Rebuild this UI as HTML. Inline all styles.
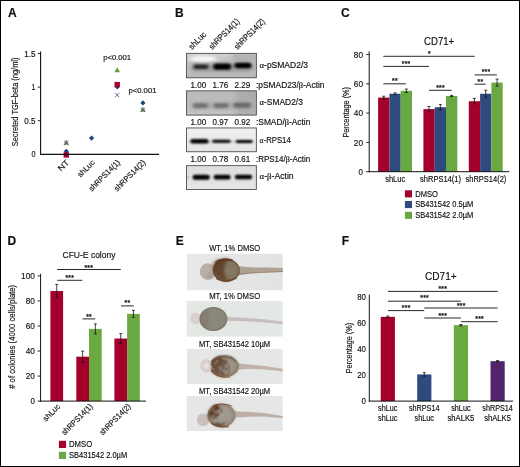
<!DOCTYPE html>
<html lang="en"><head><meta charset="utf-8"><title>Figure</title>
<style>
html,body{margin:0;padding:0;background:#fff;}
body{width:520px;height:467px;overflow:hidden;}
svg{display:block;}
text{font-family:"Liberation Sans",Arial,sans-serif;fill:#111;stroke:#111;stroke-width:0.16px;}
.sf{font-family:"Liberation Serif","DejaVu Serif",serif;}
</style></head><body>
<svg width="520" height="467" viewBox="0 0 520 467">
<defs>
<filter id="b1" x="-30%" y="-80%" width="160%" height="260%"><feGaussianBlur stdDeviation="1.7 1.2"/></filter>
<filter id="b2" x="-30%" y="-80%" width="160%" height="260%"><feGaussianBlur stdDeviation="2.2 1.6"/></filter>
<filter id="b3" x="-30%" y="-80%" width="160%" height="260%"><feGaussianBlur stdDeviation="1.1 0.8"/></filter>
<filter id="s1" x="-30%" y="-30%" width="160%" height="160%"><feGaussianBlur stdDeviation="0.7"/></filter>
<filter id="s2" x="-30%" y="-30%" width="160%" height="160%"><feGaussianBlur stdDeviation="1.4"/></filter>
<filter id="s4" x="-40%" y="-40%" width="180%" height="180%"><feGaussianBlur stdDeviation="1.1"/></filter>
<filter id="s5" x="-20%" y="-40%" width="140%" height="180%"><feGaussianBlur stdDeviation="0.6"/></filter>
<filter id="mot" x="-30%" y="-30%" width="160%" height="160%"><feTurbulence type="fractalNoise" baseFrequency="0.22" numOctaves="2" seed="7" result="n"/><feColorMatrix in="n" type="matrix" values="0 0 0 0 0  0 0 0 0 0  0 0 0 0 0  3.0 0 0 0 -1.0" result="a0"/><feGaussianBlur in="a0" stdDeviation="0.5" result="a"/><feGaussianBlur in="SourceGraphic" stdDeviation="1.2" result="sg"/><feComposite in="sg" in2="a" operator="in"/></filter>
<filter id="s3" x="-30%" y="-30%" width="160%" height="160%"><feGaussianBlur stdDeviation="0.45"/></filter>
</defs>
<rect x="0" y="0" width="520" height="467" fill="#fff"/>
<text x="8.00" y="17.00" font-size="12" font-weight="bold" fill="#000">A</text>
<text x="175.10" y="16.90" font-size="12" font-weight="bold" fill="#000">B</text>
<text x="341.00" y="17.00" font-size="12" font-weight="bold" fill="#000">C</text>
<text x="7.40" y="244.90" font-size="12" font-weight="bold" fill="#000">D</text>
<text x="175.70" y="244.90" font-size="12" font-weight="bold" fill="#000">E</text>
<text x="341.80" y="244.90" font-size="12" font-weight="bold" fill="#000">F</text>
<g id="panelA">
<line x1="37.80" y1="53.50" x2="40.60" y2="53.50" stroke="#111" stroke-width="0.9" stroke-linecap="butt"/>
<text x="35.40" y="56.60" font-size="8.7" text-anchor="end" textLength="11.20" lengthAdjust="spacingAndGlyphs">1.5</text>
<line x1="37.80" y1="87.10" x2="40.60" y2="87.10" stroke="#111" stroke-width="0.9" stroke-linecap="butt"/>
<text x="35.40" y="90.20" font-size="8.7" text-anchor="end" textLength="3.90" lengthAdjust="spacingAndGlyphs">1</text>
<line x1="37.80" y1="120.70" x2="40.60" y2="120.70" stroke="#111" stroke-width="0.9" stroke-linecap="butt"/>
<text x="35.40" y="123.80" font-size="8.7" text-anchor="end" textLength="11.20" lengthAdjust="spacingAndGlyphs">0.5</text>
<text x="35.40" y="157.40" font-size="8.7" text-anchor="end" textLength="4.00" lengthAdjust="spacingAndGlyphs">0</text>
<text x="18.00" y="146.30" font-size="8.6" textLength="88.80" lengthAdjust="spacingAndGlyphs" transform="rotate(-90 18.00 146.30)">Secreted TGF-beta (ng/ml)</text>
<path d="M66.30 139.60 L69.10 144.64 L63.50 144.64Z" fill="#5FA33A"/>
<path d="M64.10 140.80 L68.50 145.20 M64.10 145.20 L68.50 140.80" stroke="#6B3FA0" stroke-width="0.85" fill="none"/>
<path d="M66.30 148.70 L68.90 151.30 L66.30 153.90 L63.70 151.30Z" fill="#1F3F7F"/>
<rect x="63.60" y="152.20" width="5.40" height="5.40" fill="#A4002C"/>
<path d="M91.60 135.50 L94.20 138.10 L91.60 140.70 L89.00 138.10Z" fill="#1F3F7F"/>
<path d="M117.20 67.30 L120.00 72.34 L114.40 72.34Z" fill="#5FA33A"/>
<path d="M117.20 84.20 L119.80 86.80 L117.20 89.40 L114.60 86.80Z" fill="#1F3F7F"/>
<rect x="114.50" y="81.90" width="5.40" height="5.40" fill="#A4002C"/>
<path d="M115.00 92.90 L119.40 97.30 M115.00 97.30 L119.40 92.90" stroke="#6B3FA0" stroke-width="0.85" fill="none"/>
<path d="M142.90 100.30 L145.50 102.90 L142.90 105.50 L140.30 102.90Z" fill="#1F3F7F"/>
<path d="M142.90 106.60 L145.70 111.64 L140.10 111.64Z" fill="#5FA33A"/>
<path d="M140.70 107.70 L145.10 112.10 M140.70 112.10 L145.10 107.70" stroke="#6B3FA0" stroke-width="0.85" fill="none"/>
<line x1="40.60" y1="51.40" x2="40.60" y2="154.85" stroke="#111" stroke-width="1.1" stroke-linecap="butt"/>
<line x1="40.05" y1="154.30" x2="159.00" y2="154.30" stroke="#111" stroke-width="1.15" stroke-linecap="butt"/>
<text x="103.20" y="60.20" font-size="7.8" textLength="27.90" lengthAdjust="spacingAndGlyphs">p&lt;0.001</text>
<text x="128.50" y="93.40" font-size="7.8" textLength="27.90" lengthAdjust="spacingAndGlyphs">p&lt;0.001</text>
<text x="69.80" y="163.00" font-size="8" text-anchor="end" textLength="12.40" lengthAdjust="spacingAndGlyphs" transform="rotate(-45 69.80 163.00)">NT</text>
<text x="95.40" y="163.00" font-size="8" text-anchor="end" textLength="21.00" lengthAdjust="spacingAndGlyphs" transform="rotate(-45 95.40 163.00)">shLuc</text>
<text x="120.60" y="163.00" font-size="8" text-anchor="end" textLength="40.60" lengthAdjust="spacingAndGlyphs" transform="rotate(-45 120.60 163.00)">shRPS14(1)</text>
<text x="146.00" y="163.00" font-size="8" text-anchor="end" textLength="40.60" lengthAdjust="spacingAndGlyphs" transform="rotate(-45 146.00 163.00)">shRPS14(2)</text>
</g>
<g id="panelB">
<linearGradient id="g1" x1="0" y1="0" x2="0" y2="1"><stop offset="0" stop-color="#d2d2d2"/><stop offset="0.35" stop-color="#c0c0c0"/><stop offset="1" stop-color="#bababa"/></linearGradient>
<linearGradient id="g2" x1="0" y1="0" x2="0" y2="1"><stop offset="0" stop-color="#b8b8b8"/><stop offset="1" stop-color="#c4c4c4"/></linearGradient>
<linearGradient id="g3" x1="0" y1="0" x2="0" y2="1"><stop offset="0" stop-color="#f1f1f1"/><stop offset="1" stop-color="#e4e4e4"/></linearGradient>
<linearGradient id="g4" x1="0" y1="0" x2="0" y2="1"><stop offset="0" stop-color="#dedede"/><stop offset="1" stop-color="#e6e6e6"/></linearGradient>
<clipPath id="c1"><rect x="186" y="52.9" width="70.8" height="25.3"/></clipPath>
<clipPath id="c2"><rect x="186" y="90.4" width="70.8" height="25.1"/></clipPath>
<clipPath id="c3"><rect x="186" y="127.5" width="70.8" height="24.7"/></clipPath>
<clipPath id="c4"><rect x="186" y="165.2" width="70.8" height="24.8"/></clipPath>
<g clip-path="url(#c1)">
<rect x="186.00" y="52.90" width="70.80" height="25.30" fill="url(#g1)"/>
<ellipse cx="203" cy="59.0" rx="14" ry="3.2" fill="#fafafa" opacity="0.95" filter="url(#b2)"/><rect x="232" y="52" width="26" height="9" fill="#999" opacity="0.45" filter="url(#b2)"/>
<rect x="191" y="63.10" width="62.00" height="9.0" rx="4.50" fill="#5a5a5a" opacity="0.3" filter="url(#b2)"/>
<rect x="193.4" y="64.60" width="15.20" height="4.4" rx="2.20" fill="#1e1e1e" opacity="0.95" filter="url(#b1)"/>
<rect x="213.2" y="63.60" width="18.00" height="6.2" rx="3.10" fill="#050505" opacity="1" filter="url(#b1)"/>
<rect x="234.4" y="62.80" width="17.20" height="5.4" rx="2.70" fill="#050505" opacity="1" filter="url(#b1)"/>
</g>
<rect x="186.45" y="53.35" width="69.90" height="24.40" fill="none" stroke="#505050" stroke-width="0.9"/>
<g clip-path="url(#c2)">
<rect x="186.00" y="90.40" width="70.80" height="25.10" fill="url(#g2)"/>
<rect x="236" y="89" width="22" height="28" fill="#999" opacity="0.4" filter="url(#b2)"/>
<rect x="190" y="101.80" width="64.00" height="8.0" rx="4.00" fill="#8a8a8a" opacity="0.3" filter="url(#b2)"/>
<rect x="193.0" y="103.20" width="15.20" height="4.8" rx="2.40" fill="#585858" opacity="0.72" filter="url(#b1)"/>
<rect x="213.4" y="103.20" width="15.40" height="4.8" rx="2.40" fill="#585858" opacity="0.72" filter="url(#b1)"/>
<rect x="233.2" y="102.80" width="17.60" height="5.0" rx="2.50" fill="#545454" opacity="0.72" filter="url(#b1)"/>
</g>
<rect x="186.45" y="90.85" width="69.90" height="24.20" fill="none" stroke="#505050" stroke-width="0.9"/>
<g clip-path="url(#c3)">
<rect x="186.00" y="127.50" width="70.80" height="24.70" fill="url(#g3)"/>

<rect x="188" y="141.00" width="66.00" height="1.2" rx="0.60" fill="#555" opacity="0.35" filter="url(#b3)"/>
<rect x="190.4" y="139.10" width="18.20" height="4.4" rx="2.20" fill="#000" opacity="1" filter="url(#b3)"/>
<rect x="212.2" y="139.85" width="18.40" height="2.9" rx="1.45" fill="#050505" opacity="1" filter="url(#b3)"/>
<rect x="235.8" y="140.05" width="16.80" height="2.9" rx="1.45" fill="#050505" opacity="1" filter="url(#b3)"/>
</g>
<rect x="186.45" y="127.95" width="69.90" height="23.80" fill="none" stroke="#505050" stroke-width="0.9"/>
<g clip-path="url(#c4)">
<rect x="186.00" y="165.20" width="70.80" height="24.80" fill="url(#g4)"/>

<rect x="187.4" y="176.50" width="1.80" height="1.4" rx="0.70" fill="#444" opacity="0.7" filter="url(#b3)"/>
<rect x="192.6" y="174.80" width="17.20" height="5.0" rx="2.50" fill="#000" opacity="1" filter="url(#b3)"/>
<rect x="213.6" y="174.80" width="17.00" height="4.8" rx="2.40" fill="#000" opacity="1" filter="url(#b3)"/>
<rect x="234.8" y="174.80" width="17.40" height="4.4" rx="2.20" fill="#000" opacity="1" filter="url(#b3)"/>
</g>
<rect x="186.45" y="165.65" width="69.90" height="23.90" fill="none" stroke="#505050" stroke-width="0.9"/>
<text x="191.90" y="50.00" font-size="8.6" textLength="21.00" lengthAdjust="spacingAndGlyphs" transform="rotate(-45 191.90 50.00)">shLuc</text>
<text x="212.20" y="50.00" font-size="8.6" textLength="39.60" lengthAdjust="spacingAndGlyphs" transform="rotate(-45 212.20 50.00)">shRPS14(1)</text>
<text x="237.40" y="50.00" font-size="8.6" textLength="39.60" lengthAdjust="spacingAndGlyphs" transform="rotate(-45 237.40 50.00)">shRPS14(2)</text>
<text x="190.60" y="87.70" font-size="8.6" textLength="15.60" lengthAdjust="spacingAndGlyphs">1.00</text>
<text x="212.60" y="87.70" font-size="8.6" textLength="15.60" lengthAdjust="spacingAndGlyphs">1.76</text>
<text x="234.60" y="87.70" font-size="8.6" textLength="15.60" lengthAdjust="spacingAndGlyphs">2.29</text>
<text x="190.60" y="124.60" font-size="8.6" textLength="15.60" lengthAdjust="spacingAndGlyphs">1.00</text>
<text x="212.60" y="124.60" font-size="8.6" textLength="15.60" lengthAdjust="spacingAndGlyphs">0.97</text>
<text x="234.60" y="124.60" font-size="8.6" textLength="15.60" lengthAdjust="spacingAndGlyphs">0.92</text>
<text x="190.60" y="162.30" font-size="8.6" textLength="15.60" lengthAdjust="spacingAndGlyphs">1.00</text>
<text x="212.60" y="162.30" font-size="8.6" textLength="15.60" lengthAdjust="spacingAndGlyphs">0.78</text>
<text x="234.60" y="162.30" font-size="8.6" textLength="15.60" lengthAdjust="spacingAndGlyphs">0.61</text>
<text x="259.60" y="67.70" font-size="8.6" textLength="48.40" lengthAdjust="spacingAndGlyphs"><tspan class="sf">α</tspan>-pSMAD2/3</text>
<text x="256.00" y="87.70" font-size="8.6" textLength="68.50" lengthAdjust="spacingAndGlyphs">:pSMAD23/<tspan class="sf">β</tspan>-Actin</text>
<text x="259.60" y="105.00" font-size="8.6" textLength="43.30" lengthAdjust="spacingAndGlyphs"><tspan class="sf">α</tspan>-SMAD2/3</text>
<text x="256.00" y="124.60" font-size="8.6" textLength="54.30" lengthAdjust="spacingAndGlyphs">:SMAD/<tspan class="sf">β</tspan>-Actin</text>
<text x="259.60" y="143.00" font-size="8.6" textLength="31.10" lengthAdjust="spacingAndGlyphs"><tspan class="sf">α</tspan>-RPS14</text>
<text x="256.00" y="162.30" font-size="8.6" textLength="54.10" lengthAdjust="spacingAndGlyphs">:RPS14/<tspan class="sf">β</tspan>-Actin</text>
<text x="259.60" y="179.30" font-size="8.6" textLength="34.10" lengthAdjust="spacingAndGlyphs"><tspan class="sf">α</tspan>-<tspan class="sf">β</tspan>-Actin</text>
</g>
<g id="panelC">
<text x="439.10" y="44.80" font-size="10.4" text-anchor="middle" textLength="30.20" lengthAdjust="spacingAndGlyphs">CD71+</text>
<rect x="378.10" y="97.55" width="11.30" height="74.15" fill="#A4002C"/>
<line x1="383.75" y1="96.23" x2="383.75" y2="98.86" stroke="#111" stroke-width="0.8" stroke-linecap="butt"/>
<line x1="382.25" y1="96.23" x2="385.25" y2="96.23" stroke="#111" stroke-width="0.8" stroke-linecap="butt"/>
<line x1="382.25" y1="98.86" x2="385.25" y2="98.86" stroke="#111" stroke-width="0.8" stroke-linecap="butt"/>
<rect x="389.40" y="93.74" width="11.30" height="77.96" fill="#2E4A7E"/>
<line x1="395.05" y1="92.86" x2="395.05" y2="94.61" stroke="#111" stroke-width="0.8" stroke-linecap="butt"/>
<line x1="393.55" y1="92.86" x2="396.55" y2="92.86" stroke="#111" stroke-width="0.8" stroke-linecap="butt"/>
<line x1="393.55" y1="94.61" x2="396.55" y2="94.61" stroke="#111" stroke-width="0.8" stroke-linecap="butt"/>
<rect x="400.70" y="90.80" width="11.30" height="80.90" fill="#6AA842"/>
<line x1="406.35" y1="89.05" x2="406.35" y2="92.56" stroke="#111" stroke-width="0.8" stroke-linecap="butt"/>
<line x1="404.85" y1="89.05" x2="407.85" y2="89.05" stroke="#111" stroke-width="0.8" stroke-linecap="butt"/>
<line x1="404.85" y1="92.56" x2="407.85" y2="92.56" stroke="#111" stroke-width="0.8" stroke-linecap="butt"/>
<rect x="423.40" y="109.12" width="11.30" height="62.58" fill="#A4002C"/>
<line x1="429.05" y1="106.49" x2="429.05" y2="111.76" stroke="#111" stroke-width="0.8" stroke-linecap="butt"/>
<line x1="427.55" y1="106.49" x2="430.55" y2="106.49" stroke="#111" stroke-width="0.8" stroke-linecap="butt"/>
<line x1="427.55" y1="111.76" x2="430.55" y2="111.76" stroke="#111" stroke-width="0.8" stroke-linecap="butt"/>
<rect x="434.70" y="107.22" width="11.30" height="64.48" fill="#2E4A7E"/>
<line x1="440.35" y1="104.43" x2="440.35" y2="110.00" stroke="#111" stroke-width="0.8" stroke-linecap="butt"/>
<line x1="438.85" y1="104.43" x2="441.85" y2="104.43" stroke="#111" stroke-width="0.8" stroke-linecap="butt"/>
<line x1="438.85" y1="110.00" x2="441.85" y2="110.00" stroke="#111" stroke-width="0.8" stroke-linecap="butt"/>
<rect x="446.00" y="95.93" width="11.30" height="75.77" fill="#6AA842"/>
<line x1="451.65" y1="95.35" x2="451.65" y2="96.52" stroke="#111" stroke-width="0.8" stroke-linecap="butt"/>
<line x1="450.15" y1="95.35" x2="453.15" y2="95.35" stroke="#111" stroke-width="0.8" stroke-linecap="butt"/>
<line x1="450.15" y1="96.52" x2="453.15" y2="96.52" stroke="#111" stroke-width="0.8" stroke-linecap="butt"/>
<rect x="468.80" y="101.21" width="11.30" height="70.49" fill="#A4002C"/>
<line x1="474.45" y1="98.42" x2="474.45" y2="103.99" stroke="#111" stroke-width="0.8" stroke-linecap="butt"/>
<line x1="472.95" y1="98.42" x2="475.95" y2="98.42" stroke="#111" stroke-width="0.8" stroke-linecap="butt"/>
<line x1="472.95" y1="103.99" x2="475.95" y2="103.99" stroke="#111" stroke-width="0.8" stroke-linecap="butt"/>
<rect x="480.10" y="93.74" width="11.30" height="77.96" fill="#2E4A7E"/>
<line x1="485.75" y1="90.22" x2="485.75" y2="97.25" stroke="#111" stroke-width="0.8" stroke-linecap="butt"/>
<line x1="484.25" y1="90.22" x2="487.25" y2="90.22" stroke="#111" stroke-width="0.8" stroke-linecap="butt"/>
<line x1="484.25" y1="97.25" x2="487.25" y2="97.25" stroke="#111" stroke-width="0.8" stroke-linecap="butt"/>
<rect x="491.40" y="82.60" width="11.30" height="89.10" fill="#6AA842"/>
<line x1="497.05" y1="79.08" x2="497.05" y2="86.11" stroke="#111" stroke-width="0.8" stroke-linecap="butt"/>
<line x1="495.55" y1="79.08" x2="498.55" y2="79.08" stroke="#111" stroke-width="0.8" stroke-linecap="butt"/>
<line x1="495.55" y1="86.11" x2="498.55" y2="86.11" stroke="#111" stroke-width="0.8" stroke-linecap="butt"/>
<line x1="369.20" y1="51.50" x2="369.20" y2="172.20" stroke="#111" stroke-width="1.0" stroke-linecap="butt"/>
<line x1="368.70" y1="171.70" x2="509.30" y2="171.70" stroke="#111" stroke-width="1.0" stroke-linecap="butt"/>
<line x1="366.20" y1="171.70" x2="369.20" y2="171.70" stroke="#111" stroke-width="0.9" stroke-linecap="butt"/>
<text x="363.00" y="174.90" font-size="9.2" text-anchor="end" textLength="4.40" lengthAdjust="spacingAndGlyphs">0</text>
<line x1="366.20" y1="142.39" x2="369.20" y2="142.39" stroke="#111" stroke-width="0.9" stroke-linecap="butt"/>
<text x="363.00" y="145.59" font-size="9.2" text-anchor="end" textLength="9.20" lengthAdjust="spacingAndGlyphs">20</text>
<line x1="366.20" y1="113.08" x2="369.20" y2="113.08" stroke="#111" stroke-width="0.9" stroke-linecap="butt"/>
<text x="363.00" y="116.28" font-size="9.2" text-anchor="end" textLength="9.20" lengthAdjust="spacingAndGlyphs">40</text>
<line x1="366.20" y1="83.77" x2="369.20" y2="83.77" stroke="#111" stroke-width="0.9" stroke-linecap="butt"/>
<text x="363.00" y="86.97" font-size="9.2" text-anchor="end" textLength="9.20" lengthAdjust="spacingAndGlyphs">60</text>
<line x1="366.20" y1="54.46" x2="369.20" y2="54.46" stroke="#111" stroke-width="0.9" stroke-linecap="butt"/>
<text x="363.00" y="57.66" font-size="9.2" text-anchor="end" textLength="9.20" lengthAdjust="spacingAndGlyphs">80</text>
<text x="348.80" y="137.60" font-size="9.0" textLength="50.60" lengthAdjust="spacingAndGlyphs" transform="rotate(-90 348.80 137.60)">Percentage (%)</text>
<line x1="383.30" y1="56.30" x2="474.70" y2="56.30" stroke="#111" stroke-width="0.9" stroke-linecap="butt"/>
<text x="429.40" y="56.00" font-size="6.6" text-anchor="middle" font-weight="bold" stroke="none" letter-spacing="0.35">*</text>
<line x1="383.30" y1="66.40" x2="428.80" y2="66.40" stroke="#111" stroke-width="0.9" stroke-linecap="butt"/>
<text x="406.10" y="66.00" font-size="6.6" text-anchor="middle" font-weight="bold" stroke="none" letter-spacing="0.35">***</text>
<line x1="383.30" y1="83.80" x2="405.90" y2="83.80" stroke="#111" stroke-width="0.9" stroke-linecap="butt"/>
<text x="394.90" y="83.00" font-size="6.6" text-anchor="middle" font-weight="bold" stroke="none" letter-spacing="0.35">**</text>
<line x1="429.00" y1="90.30" x2="451.70" y2="90.30" stroke="#111" stroke-width="0.9" stroke-linecap="butt"/>
<text x="440.50" y="90.00" font-size="6.6" text-anchor="middle" font-weight="bold" stroke="none" letter-spacing="0.35">***</text>
<line x1="474.60" y1="74.90" x2="496.90" y2="74.90" stroke="#111" stroke-width="0.9" stroke-linecap="butt"/>
<text x="486.00" y="74.00" font-size="6.6" text-anchor="middle" font-weight="bold" stroke="none" letter-spacing="0.35">***</text>
<line x1="474.60" y1="84.20" x2="485.60" y2="84.20" stroke="#111" stroke-width="0.9" stroke-linecap="butt"/>
<text x="480.40" y="84.00" font-size="6.6" text-anchor="middle" font-weight="bold" stroke="none" letter-spacing="0.35">**</text>
<text x="395.20" y="182.00" font-size="8.2" text-anchor="middle" textLength="20.00" lengthAdjust="spacingAndGlyphs">shLuc</text>
<text x="440.50" y="182.00" font-size="8.2" text-anchor="middle" textLength="40.80" lengthAdjust="spacingAndGlyphs">shRPS14(1)</text>
<text x="485.90" y="182.00" font-size="8.2" text-anchor="middle" textLength="40.80" lengthAdjust="spacingAndGlyphs">shRPS14(2)</text>
<rect x="404.90" y="190.30" width="7.10" height="7.10" fill="#A4002C"/>
<rect x="404.90" y="201.00" width="7.10" height="7.10" fill="#2E4A7E"/>
<rect x="404.90" y="211.80" width="7.10" height="7.10" fill="#6AA842"/>
<text x="415.30" y="196.60" font-size="8.2" textLength="22.60" lengthAdjust="spacingAndGlyphs">DMSO</text>
<text x="415.30" y="207.30" font-size="8.2" textLength="58.00" lengthAdjust="spacingAndGlyphs">SB431542 0.5µM</text>
<text x="415.30" y="218.00" font-size="8.2" textLength="58.00" lengthAdjust="spacingAndGlyphs">SB431542 2.0µM</text>
</g>
<g id="panelD">
<text x="89.00" y="258.20" font-size="9.6" text-anchor="middle" textLength="53.00" lengthAdjust="spacingAndGlyphs">CFU-E colony</text>
<rect x="50.40" y="290.97" width="12.70" height="110.13" fill="#A4002C"/>
<line x1="56.75" y1="284.46" x2="56.75" y2="297.48" stroke="#111" stroke-width="0.8" stroke-linecap="butt"/>
<line x1="55.25" y1="284.46" x2="58.25" y2="284.46" stroke="#111" stroke-width="0.8" stroke-linecap="butt"/>
<line x1="55.25" y1="297.48" x2="58.25" y2="297.48" stroke="#111" stroke-width="0.8" stroke-linecap="butt"/>
<rect x="76.30" y="356.67" width="12.70" height="44.43" fill="#A4002C"/>
<line x1="82.65" y1="351.17" x2="82.65" y2="362.18" stroke="#111" stroke-width="0.8" stroke-linecap="butt"/>
<line x1="81.15" y1="351.17" x2="84.15" y2="351.17" stroke="#111" stroke-width="0.8" stroke-linecap="butt"/>
<line x1="81.15" y1="362.18" x2="84.15" y2="362.18" stroke="#111" stroke-width="0.8" stroke-linecap="butt"/>
<rect x="89.00" y="328.89" width="12.70" height="72.21" fill="#6AA842"/>
<line x1="95.35" y1="323.88" x2="95.35" y2="333.89" stroke="#111" stroke-width="0.8" stroke-linecap="butt"/>
<line x1="93.85" y1="323.88" x2="96.85" y2="323.88" stroke="#111" stroke-width="0.8" stroke-linecap="butt"/>
<line x1="93.85" y1="333.89" x2="96.85" y2="333.89" stroke="#111" stroke-width="0.8" stroke-linecap="butt"/>
<rect x="114.40" y="338.53" width="12.70" height="62.57" fill="#A4002C"/>
<line x1="120.75" y1="333.64" x2="120.75" y2="343.41" stroke="#111" stroke-width="0.8" stroke-linecap="butt"/>
<line x1="119.25" y1="333.64" x2="122.25" y2="333.64" stroke="#111" stroke-width="0.8" stroke-linecap="butt"/>
<line x1="119.25" y1="343.41" x2="122.25" y2="343.41" stroke="#111" stroke-width="0.8" stroke-linecap="butt"/>
<rect x="127.10" y="313.87" width="12.70" height="87.23" fill="#6AA842"/>
<line x1="133.45" y1="310.37" x2="133.45" y2="317.37" stroke="#111" stroke-width="0.8" stroke-linecap="butt"/>
<line x1="131.95" y1="310.37" x2="134.95" y2="310.37" stroke="#111" stroke-width="0.8" stroke-linecap="butt"/>
<line x1="131.95" y1="317.37" x2="134.95" y2="317.37" stroke="#111" stroke-width="0.8" stroke-linecap="butt"/>
<line x1="40.60" y1="273.80" x2="40.60" y2="401.60" stroke="#111" stroke-width="1.0" stroke-linecap="butt"/>
<line x1="40.10" y1="401.10" x2="146.00" y2="401.10" stroke="#111" stroke-width="1.0" stroke-linecap="butt"/>
<line x1="37.60" y1="401.10" x2="40.60" y2="401.10" stroke="#111" stroke-width="0.9" stroke-linecap="butt"/>
<text x="34.90" y="404.30" font-size="9.2" text-anchor="end" textLength="4.40" lengthAdjust="spacingAndGlyphs">0</text>
<line x1="37.60" y1="376.07" x2="40.60" y2="376.07" stroke="#111" stroke-width="0.9" stroke-linecap="butt"/>
<text x="34.90" y="379.27" font-size="9.2" text-anchor="end" textLength="9.20" lengthAdjust="spacingAndGlyphs">20</text>
<line x1="37.60" y1="351.04" x2="40.60" y2="351.04" stroke="#111" stroke-width="0.9" stroke-linecap="butt"/>
<text x="34.90" y="354.24" font-size="9.2" text-anchor="end" textLength="9.20" lengthAdjust="spacingAndGlyphs">40</text>
<line x1="37.60" y1="326.01" x2="40.60" y2="326.01" stroke="#111" stroke-width="0.9" stroke-linecap="butt"/>
<text x="34.90" y="329.21" font-size="9.2" text-anchor="end" textLength="9.20" lengthAdjust="spacingAndGlyphs">60</text>
<line x1="37.60" y1="300.98" x2="40.60" y2="300.98" stroke="#111" stroke-width="0.9" stroke-linecap="butt"/>
<text x="34.90" y="304.18" font-size="9.2" text-anchor="end" textLength="9.20" lengthAdjust="spacingAndGlyphs">80</text>
<line x1="37.60" y1="275.95" x2="40.60" y2="275.95" stroke="#111" stroke-width="0.9" stroke-linecap="butt"/>
<text x="34.90" y="279.15" font-size="9.2" text-anchor="end" textLength="13.80" lengthAdjust="spacingAndGlyphs">100</text>
<text x="15.30" y="388.80" font-size="8.6" textLength="104.00" lengthAdjust="spacingAndGlyphs" transform="rotate(-90 15.30 388.80)"># of colonies (4000 cells/plate)</text>
<line x1="57.20" y1="269.50" x2="120.80" y2="269.50" stroke="#111" stroke-width="0.9" stroke-linecap="butt"/>
<text x="88.80" y="270.00" font-size="6.6" text-anchor="middle" font-weight="bold" stroke="none" letter-spacing="0.35">***</text>
<line x1="57.20" y1="280.30" x2="82.30" y2="280.30" stroke="#111" stroke-width="0.9" stroke-linecap="butt"/>
<text x="69.80" y="280.00" font-size="6.6" text-anchor="middle" font-weight="bold" stroke="none" letter-spacing="0.35">***</text>
<line x1="82.50" y1="318.90" x2="95.20" y2="318.90" stroke="#111" stroke-width="0.9" stroke-linecap="butt"/>
<text x="89.10" y="319.00" font-size="6.6" text-anchor="middle" font-weight="bold" stroke="none" letter-spacing="0.35">**</text>
<line x1="121.00" y1="305.90" x2="133.70" y2="305.90" stroke="#111" stroke-width="0.9" stroke-linecap="butt"/>
<text x="127.50" y="305.00" font-size="6.6" text-anchor="middle" font-weight="bold" stroke="none" letter-spacing="0.35">**</text>
<text x="60.80" y="407.00" font-size="8" text-anchor="end" textLength="20.80" lengthAdjust="spacingAndGlyphs" transform="rotate(-45 60.80 407.00)">shLuc</text>
<text x="93.20" y="407.00" font-size="8" text-anchor="end" textLength="40.40" lengthAdjust="spacingAndGlyphs" transform="rotate(-45 93.20 407.00)">shRPS14(1)</text>
<text x="131.30" y="407.00" font-size="8" text-anchor="end" textLength="40.40" lengthAdjust="spacingAndGlyphs" transform="rotate(-45 131.30 407.00)">shRPS14(2)</text>
<rect x="58.90" y="440.80" width="7.20" height="7.20" fill="#A4002C"/>
<rect x="58.90" y="451.80" width="7.20" height="7.20" fill="#6AA842"/>
<text x="69.00" y="447.10" font-size="8.2" textLength="23.20" lengthAdjust="spacingAndGlyphs">DMSO</text>
<text x="69.00" y="458.10" font-size="8.2" textLength="58.20" lengthAdjust="spacingAndGlyphs">SB431542 2.0µM</text>
</g>
<g id="panelE">
<clipPath id="e1"><rect x="187" y="253.5" width="95.8" height="37.1"/></clipPath>
<clipPath id="e2"><rect x="186.4" y="300.9" width="96.4" height="35.9"/></clipPath>
<clipPath id="e3"><rect x="187" y="348.9" width="95.8" height="35.1"/></clipPath>
<clipPath id="yc3"><ellipse cx="224.2" cy="366.2" rx="14.3" ry="10.9"/></clipPath>
<clipPath id="yc4"><ellipse cx="221.4" cy="415.3" rx="13.7" ry="11.5"/></clipPath>
<clipPath id="e4"><rect x="186.4" y="395.8" width="96.4" height="35.3"/></clipPath>
<radialGradient id="y1" cx="0.62" cy="0.5" r="0.6"><stop offset="0" stop-color="#877b66"/><stop offset="0.7" stop-color="#80735d"/><stop offset="1" stop-color="#705a44"/></radialGradient>
<radialGradient id="y2" cx="0.52" cy="0.48" r="0.56"><stop offset="0" stop-color="#8b887c"/><stop offset="0.8" stop-color="#888579"/><stop offset="1" stop-color="#807a6d"/></radialGradient>
<radialGradient id="y3" cx="0.6" cy="0.5" r="0.58"><stop offset="0" stop-color="#9d978a"/><stop offset="0.75" stop-color="#958d7f"/><stop offset="1" stop-color="#856c57"/></radialGradient>
<radialGradient id="y4" cx="0.56" cy="0.46" r="0.58"><stop offset="0" stop-color="#a39d92"/><stop offset="0.8" stop-color="#9a9488"/><stop offset="1" stop-color="#88725c"/></radialGradient>
<radialGradient id="h1" cx="0.55" cy="0.55" r="0.5"><stop offset="0" stop-color="#ad9b92"/><stop offset="0.55" stop-color="#b8a8a0"/><stop offset="1" stop-color="#d3cbc7"/></radialGradient>
<radialGradient id="h2" cx="0.5" cy="0.5" r="0.5"><stop offset="0" stop-color="#dcd5d4"/><stop offset="0.6" stop-color="#d6cdcd"/><stop offset="1" stop-color="#d9d2d1"/></radialGradient>
<radialGradient id="h3" cx="0.5" cy="0.5" r="0.5"><stop offset="0" stop-color="#eee9e8"/><stop offset="0.55" stop-color="#ddd3d1"/><stop offset="1" stop-color="#d2c6c3"/></radialGradient>
<radialGradient id="h4" cx="0.5" cy="0.5" r="0.5"><stop offset="0" stop-color="#c3b5b4"/><stop offset="0.6" stop-color="#c6b9b8"/><stop offset="1" stop-color="#d9d3d1"/></radialGradient>
<linearGradient id="bg1" x1="0" y1="0" x2="1" y2="0"><stop offset="0" stop-color="#e7e8e7"/><stop offset="1" stop-color="#e1e3e2"/></linearGradient>
<g clip-path="url(#e1)">
<rect x="187.00" y="253.50" width="95.80" height="37.10" fill="url(#bg1)"/>
<path d="M236.0 264.8 L240.0 266.2 L246.0 267.0 L256.0 267.4 L266.0 267.6 L284.0 268.0 L284.0 271.9 L266.0 272.6 L256.0 273.1 L246.0 273.9 L240.0 274.8 L236.0 276.2Z" fill="#ada193" opacity="1" filter="url(#s5)"/>
<path d="M238.0 273.6 L246.0 272.8 L256.0 272.2 L284.0 271.0 L284.0 272.0 L256.0 273.2 L246.0 274.0 L238.0 275.6Z" fill="#86664e" opacity="0.45" filter="url(#s5)"/>
<ellipse cx="207.6" cy="271.6" rx="7.8" ry="8.4" fill="#bcaea6" filter="url(#s1)"/>
<ellipse cx="210.5" cy="275.8" rx="4.4" ry="3.6" fill="#93807a" opacity="0.3" filter="url(#s4)"/>
<ellipse cx="226.3" cy="270.3" rx="13.5" ry="11.5" fill="url(#y1)" filter="url(#s5)"/>
<ellipse cx="226.3" cy="270.3" rx="12.8" ry="10.8" fill="none" stroke="#6b4a30" stroke-width="1.4" opacity="0.6" filter="url(#s1)"/>
<path d="M212.8 264 Q216 258.6 229 258.6 Q224.5 263 224 270 Q224 276 228 281.8 Q211.6 277 212.8 264Z" fill="#5c3822" opacity="0.8" filter="url(#s2)"/>
<path d="M215.5 262.5 Q222 257.8 232.5 260.4" stroke="#5a301c" stroke-width="2.4" fill="none" opacity="0.65" filter="url(#s1)"/>
<path d="M216 278.5 Q226 283.4 237 277.8" stroke="#6d3a1e" stroke-width="1.6" fill="none" opacity="0.6" filter="url(#s1)"/>
</g>
<g clip-path="url(#e2)">
<rect x="186.40" y="300.90" width="96.40" height="35.90" fill="#e3e8e4"/>
<path d="M225.0 315.8 L228.5 317.0 L240.0 317.5 L262.0 318.9 L284.0 321.8 L284.0 324.3 L262.0 322.2 L240.0 321.0 L228.5 321.0 L225.0 322.4Z" fill="#c9bebf" opacity="1" filter="url(#s5)"/>
<ellipse cx="195.8" cy="318.4" rx="5.6" ry="6.0" fill="url(#h2)" filter="url(#s1)"/>
<ellipse cx="213.4" cy="318.9" rx="13.9" ry="12.0" fill="url(#y2)" filter="url(#s5)"/>
<ellipse cx="213.4" cy="318.9" rx="13.2" ry="11.3" fill="none" stroke="#77705f" stroke-width="1.3" opacity="0.5" filter="url(#s1)"/>
<ellipse cx="205.5" cy="318" rx="4" ry="8" fill="#7c5a3c" opacity="0.16" filter="url(#s2)"/>
<path d="M203.5 313.5 Q206.5 312 208.5 315.5 M204.5 321 Q204 325 206.5 328.5" stroke="#86664a" stroke-width="0.9" fill="none" opacity="0.45" filter="url(#s1)"/>
</g>
<g clip-path="url(#e3)">
<rect x="187.00" y="348.90" width="95.80" height="35.10" fill="#e4e7e5"/>
<path d="M236.0 361.8 L240.0 363.4 L250.0 364.4 L265.0 366.1 L284.0 368.9 L284.0 371.4 L265.0 369.6 L250.0 368.9 L240.0 369.6 L236.0 371.2Z" fill="#c1b3ac" opacity="1" filter="url(#s5)"/>
<ellipse cx="224.2" cy="366.2" rx="14.6" ry="11.2" fill="url(#y3)" filter="url(#s5)"/>
<ellipse cx="224.2" cy="366.2" rx="13.9" ry="10.5" fill="none" stroke="#6e4c34" stroke-width="1.5" opacity="0.45" filter="url(#s4)"/>
<ellipse cx="206.4" cy="365.8" rx="6.0" ry="6.6" fill="url(#h3)" filter="url(#s1)"/>
<ellipse cx="218.5" cy="366.0" rx="7.5" ry="9.0" fill="#5e3a24" opacity="0.32" filter="url(#s2)"/>
<g clip-path="url(#yc3)"><ellipse cx="219.0" cy="366.0" rx="9.0" ry="9.6" fill="#4e3020" opacity="0.62" filter="url(#mot)"/></g>
<path d="M212.0 362.5 Q216.5 356.8 225 356.9 Q232 357.4 236 361.5 M215.0 361 Q218.5 366 214.5 370.5 Q218 375 224 375.3 Q229 375.6 229.3 371 Q230.2 365 226 361 M218.5 363.5 Q221.5 360 225 363 M215 373.5 Q220 378.6 230 377.0" stroke="#6e3118" stroke-width="1.0" fill="none" opacity="0.55" filter="url(#s5)"/>
</g>
<g clip-path="url(#e4)">
<rect x="186.40" y="395.80" width="96.40" height="35.30" fill="#e5e6e5"/>
<path d="M232.0 409.8 L236.5 411.5 L250.0 412.0 L264.0 413.0 L284.0 416.2 L284.0 418.2 L264.0 416.6 L250.0 416.7 L236.5 417.5 L232.0 419.4Z" fill="#bdaea6" opacity="1" filter="url(#s5)"/>
<ellipse cx="203.2" cy="419.8" rx="6.2" ry="6.4" fill="#c9bfbd" filter="url(#s1)"/>
<ellipse cx="221.4" cy="415.3" rx="14.0" ry="11.8" fill="url(#y4)" filter="url(#s5)"/>
<ellipse cx="221.4" cy="415.3" rx="13.3" ry="11.1" fill="none" stroke="#74573f" stroke-width="1.5" opacity="0.45" filter="url(#s4)"/>
<path d="M208.2 415.5 Q208.4 408.5 213.5 404.8 Q222 404.5 219 410.5 Q214 414 212.5 420.5Z" fill="#633822" opacity="0.45" filter="url(#s4)"/>
<g clip-path="url(#yc4)"><ellipse cx="215.0" cy="411.0" rx="7.0" ry="7.5" fill="#4e3020" opacity="0.66" filter="url(#mot)"/>
<ellipse cx="220.0" cy="424.5" rx="8.0" ry="2.6" fill="#4e3020" opacity="0.62" filter="url(#mot)"/></g>
<path d="M212.5 405.8 Q221 402.4 232 405.8" stroke="#73371a" stroke-width="1.3" fill="none" opacity="0.5" filter="url(#s1)"/>
<circle cx="217.2" cy="408.6" r="1.3" fill="#6a2e14" opacity="0.7" filter="url(#s3)"/><circle cx="211.6" cy="412.5" r="1.4" fill="#6a2e14" opacity="0.7" filter="url(#s3)"/>
<path d="M211.0 423.0 Q218 428.4 229 426.6" stroke="#73371a" stroke-width="1.5" fill="none" opacity="0.65" filter="url(#s1)"/>
</g>
<text x="234.70" y="251.20" font-size="8.2" text-anchor="middle" textLength="51.00" lengthAdjust="spacingAndGlyphs">WT, 1% DMSO</text>
<text x="234.70" y="298.70" font-size="8.2" text-anchor="middle" textLength="51.00" lengthAdjust="spacingAndGlyphs">MT, 1% DMSO</text>
<text x="234.60" y="346.80" font-size="8.2" text-anchor="middle" textLength="71.20" lengthAdjust="spacingAndGlyphs">MT, SB431542 10µM</text>
<text x="234.60" y="393.60" font-size="8.2" text-anchor="middle" textLength="71.20" lengthAdjust="spacingAndGlyphs">MT, SB431542 20µM</text>
</g>
<g id="panelF">
<text x="440.90" y="280.40" font-size="10.4" text-anchor="middle" textLength="31.60" lengthAdjust="spacingAndGlyphs">CD71+</text>
<rect x="380.70" y="316.86" width="14.20" height="84.24" fill="#A4002C"/>
<line x1="387.80" y1="316.08" x2="387.80" y2="317.64" stroke="#111" stroke-width="0.8" stroke-linecap="butt"/>
<line x1="386.30" y1="316.08" x2="389.30" y2="316.08" stroke="#111" stroke-width="0.8" stroke-linecap="butt"/>
<line x1="386.30" y1="317.64" x2="389.30" y2="317.64" stroke="#111" stroke-width="0.8" stroke-linecap="butt"/>
<rect x="417.20" y="374.45" width="14.20" height="26.65" fill="#2E4A7E"/>
<line x1="424.30" y1="372.63" x2="424.30" y2="376.27" stroke="#111" stroke-width="0.8" stroke-linecap="butt"/>
<line x1="422.80" y1="372.63" x2="425.80" y2="372.63" stroke="#111" stroke-width="0.8" stroke-linecap="butt"/>
<line x1="422.80" y1="376.27" x2="425.80" y2="376.27" stroke="#111" stroke-width="0.8" stroke-linecap="butt"/>
<rect x="453.80" y="325.18" width="14.20" height="75.92" fill="#6AA842"/>
<line x1="460.90" y1="324.53" x2="460.90" y2="325.83" stroke="#111" stroke-width="0.8" stroke-linecap="butt"/>
<line x1="459.40" y1="324.53" x2="462.40" y2="324.53" stroke="#111" stroke-width="0.8" stroke-linecap="butt"/>
<line x1="459.40" y1="325.83" x2="462.40" y2="325.83" stroke="#111" stroke-width="0.8" stroke-linecap="butt"/>
<rect x="490.50" y="361.19" width="14.20" height="39.91" fill="#52256A"/>
<line x1="497.60" y1="360.54" x2="497.60" y2="361.84" stroke="#111" stroke-width="0.8" stroke-linecap="butt"/>
<line x1="496.10" y1="360.54" x2="499.10" y2="360.54" stroke="#111" stroke-width="0.8" stroke-linecap="butt"/>
<line x1="496.10" y1="361.84" x2="499.10" y2="361.84" stroke="#111" stroke-width="0.8" stroke-linecap="butt"/>
<line x1="369.30" y1="294.60" x2="369.30" y2="401.60" stroke="#111" stroke-width="1.0" stroke-linecap="butt"/>
<line x1="368.80" y1="401.10" x2="513.00" y2="401.10" stroke="#111" stroke-width="1.0" stroke-linecap="butt"/>
<text x="366.00" y="404.30" font-size="9.2" text-anchor="end" textLength="4.40" lengthAdjust="spacingAndGlyphs">0</text>
<text x="366.00" y="378.30" font-size="9.2" text-anchor="end" textLength="8.80" lengthAdjust="spacingAndGlyphs">20</text>
<text x="366.00" y="352.30" font-size="9.2" text-anchor="end" textLength="8.80" lengthAdjust="spacingAndGlyphs">40</text>
<text x="366.00" y="326.30" font-size="9.2" text-anchor="end" textLength="8.80" lengthAdjust="spacingAndGlyphs">60</text>
<text x="366.00" y="300.30" font-size="9.2" text-anchor="end" textLength="8.80" lengthAdjust="spacingAndGlyphs">80</text>
<text x="352.00" y="373.30" font-size="9.0" textLength="50.40" lengthAdjust="spacingAndGlyphs" transform="rotate(-90 352.00 373.30)">Percentage (%)</text>
<line x1="388.00" y1="291.40" x2="497.60" y2="291.40" stroke="#111" stroke-width="0.9" stroke-linecap="butt"/>
<text x="442.80" y="291.00" font-size="6.6" text-anchor="middle" font-weight="bold" stroke="none" letter-spacing="0.35">***</text>
<line x1="388.00" y1="301.20" x2="460.80" y2="301.20" stroke="#111" stroke-width="0.9" stroke-linecap="butt"/>
<text x="424.60" y="300.00" font-size="6.6" text-anchor="middle" font-weight="bold" stroke="none" letter-spacing="0.35">***</text>
<line x1="424.30" y1="308.00" x2="497.60" y2="308.00" stroke="#111" stroke-width="0.9" stroke-linecap="butt"/>
<text x="461.30" y="308.00" font-size="6.6" text-anchor="middle" font-weight="bold" stroke="none" letter-spacing="0.35">***</text>
<line x1="388.00" y1="310.60" x2="424.20" y2="310.60" stroke="#111" stroke-width="0.9" stroke-linecap="butt"/>
<text x="406.20" y="310.00" font-size="6.6" text-anchor="middle" font-weight="bold" stroke="none" letter-spacing="0.35">***</text>
<line x1="424.30" y1="318.00" x2="460.80" y2="318.00" stroke="#111" stroke-width="0.9" stroke-linecap="butt"/>
<text x="442.80" y="318.00" font-size="6.6" text-anchor="middle" font-weight="bold" stroke="none" letter-spacing="0.35">***</text>
<line x1="461.00" y1="321.70" x2="497.60" y2="321.70" stroke="#111" stroke-width="0.9" stroke-linecap="butt"/>
<text x="479.60" y="321.00" font-size="6.6" text-anchor="middle" font-weight="bold" stroke="none" letter-spacing="0.35">***</text>
<text x="387.80" y="411.10" font-size="8.2" text-anchor="middle" textLength="19.40" lengthAdjust="spacingAndGlyphs">shLuc</text>
<text x="387.80" y="420.80" font-size="8.2" text-anchor="middle" textLength="19.40" lengthAdjust="spacingAndGlyphs">shLuc</text>
<text x="424.20" y="411.10" font-size="8.2" text-anchor="middle" textLength="30.60" lengthAdjust="spacingAndGlyphs">shRPS14</text>
<text x="424.20" y="420.80" font-size="8.2" text-anchor="middle" textLength="19.40" lengthAdjust="spacingAndGlyphs">shLuc</text>
<text x="460.90" y="411.10" font-size="8.2" text-anchor="middle" textLength="19.40" lengthAdjust="spacingAndGlyphs">shLuc</text>
<text x="460.90" y="420.80" font-size="8.2" text-anchor="middle" textLength="26.80" lengthAdjust="spacingAndGlyphs">shALK5</text>
<text x="497.60" y="411.10" font-size="8.2" text-anchor="middle" textLength="30.60" lengthAdjust="spacingAndGlyphs">shRPS14</text>
<text x="497.60" y="420.80" font-size="8.2" text-anchor="middle" textLength="26.80" lengthAdjust="spacingAndGlyphs">shALK5</text>
</g>
<rect x="0.5" y="0.5" width="519" height="466" fill="none" stroke="#000" stroke-width="1"/>
</svg></body></html>
